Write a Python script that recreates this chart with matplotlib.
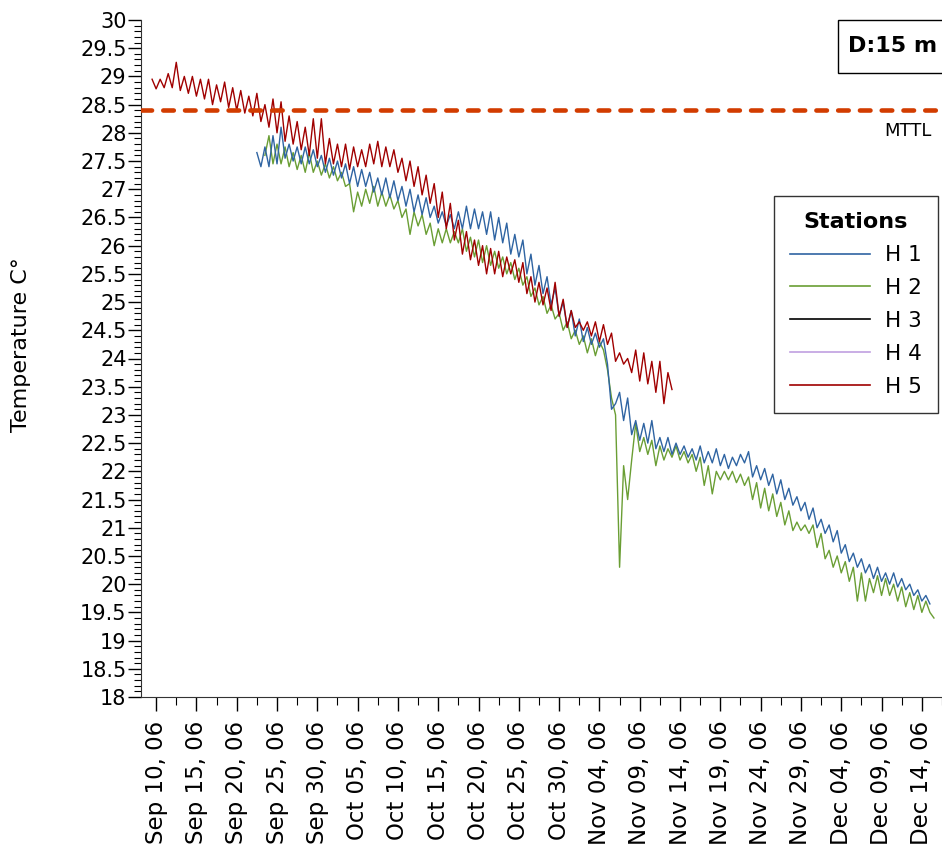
import matplotlib
matplotlib.use("Agg")
import matplotlib.pyplot as plt
import matplotlib.dates as mdates
from matplotlib.ticker import MultipleLocator
from matplotlib.patches import Rectangle
import pandas as pd

plt.rcParams['font.family'] = ['DejaVu Sans']

# ---------------- data (12-hour samples) ----------------
h5_start = "2006-09-09 12:00"
h5_values = [28.95,
    28.78, 28.95, 28.8, 29.05, 28.8, 29.25, 28.75, 29.0, 28.7, 29.0,
    28.65, 28.95, 28.6, 28.95, 28.5, 28.85, 28.55, 28.9, 28.45, 28.8,
    28.4, 28.75, 28.35, 28.65, 28.3, 28.7, 28.2, 28.5, 28.1, 28.6,
    28.0, 28.55, 27.85, 28.3, 27.8, 28.2, 27.7, 28.1, 27.6, 28.25,
    27.55, 28.25, 27.45, 27.9, 27.45, 27.8, 27.4, 27.8, 27.35, 27.75,
    27.4, 27.7, 27.4, 27.8, 27.45, 27.85, 27.4, 27.75, 27.4, 27.7,
    27.3, 27.55, 27.15, 27.5, 27.05, 27.4, 26.9, 27.25, 26.75, 27.1,
    26.5, 26.95, 26.3, 26.75, 26.1, 26.45, 25.85, 26.25, 25.75, 26.1,
    25.65, 26.0, 25.5, 25.95, 25.5, 25.9, 25.45, 25.8, 25.5, 25.75,
    25.35, 25.7, 25.15, 25.45, 25.0, 25.35, 24.95, 25.25, 24.85, 25.35,
    24.75, 25.05, 24.55, 24.85, 24.55, 24.65, 24.5, 24.65, 24.4, 24.65,
    24.3, 24.6, 24.25, 24.45, 23.95, 24.1, 23.9, 24.0, 23.75, 24.15,
    23.6, 24.1, 23.55, 23.95, 23.4, 23.95, 23.2, 23.75, 23.45]

h1_start = "2006-09-22 12:00"
h1_values = [27.65,
    27.4, 27.75, 27.4, 27.95, 27.45, 28.1, 27.55, 27.8, 27.5, 27.75,
    27.45, 27.75, 27.45, 27.7, 27.4, 27.6, 27.3, 27.55, 27.25, 27.5,
    27.2, 27.45, 27.1, 27.4, 27.05, 27.35, 27.05, 27.3, 26.95, 27.2,
    26.9, 27.2, 26.85, 27.15, 26.8, 27.05, 26.7, 27.0, 26.6, 26.9,
    26.55, 26.85, 26.5, 26.7, 26.4, 26.6, 26.35, 26.55, 26.3, 26.6,
    26.3, 26.7, 26.3, 26.65, 26.3, 26.6, 26.2, 26.6, 26.1, 26.5,
    26.05, 26.4, 25.85, 26.2, 25.8, 26.1, 25.5, 25.85, 25.3, 25.65,
    25.15, 25.45, 24.95, 25.25, 24.75, 25.0, 24.55, 24.85, 24.4, 24.7,
    24.3, 24.55, 24.25, 24.45, 24.2, 24.35, 23.9, 23.1, 23.2, 23.4,
    22.9, 23.3, 22.65, 22.9, 22.55, 22.85, 22.5, 22.9, 22.4, 22.6,
    22.35, 22.6, 22.3, 22.5, 22.3, 22.45, 22.25, 22.4, 22.2, 22.45,
    22.15, 22.35, 22.15, 22.4, 22.1, 22.3, 22.05, 22.25, 22.1, 22.3,
    22.15, 22.35, 21.9, 22.1, 21.85, 22.05, 21.75, 21.95, 21.6, 21.85,
    21.5, 21.7, 21.4, 21.55, 21.3, 21.45, 21.15, 21.35, 21.0, 21.15,
    20.9, 21.05, 20.75, 20.95, 20.55, 20.7, 20.4, 20.55, 20.3, 20.45,
    20.2, 20.35, 20.1, 20.3, 20.05, 20.2, 20.0, 20.2, 19.95, 20.1,
    19.9, 20.0, 19.8, 19.9, 19.7, 19.8, 19.65]

h2_start = "2006-09-23 12:00"
h2_values = [27.6,
    27.95, 27.45, 27.8, 27.45, 27.75, 27.4, 27.65, 27.35, 27.6, 27.3,
    27.65, 27.3, 27.5, 27.25, 27.45, 27.2, 27.4, 27.15, 27.3, 27.05,
    27.1, 26.6, 26.95, 26.7, 27.0, 26.75, 27.05, 26.7, 26.95, 26.7,
    26.9, 26.65, 26.8, 26.5, 26.65, 26.2, 26.6, 26.35, 26.55, 26.2,
    26.4, 26.0, 26.3, 26.05, 26.3, 26.05, 26.25, 26.05, 26.3, 25.9,
    26.15, 25.8, 26.1, 25.7, 26.0, 25.65, 25.9, 25.6, 25.8, 25.5,
    25.7, 25.4, 25.6, 25.3, 25.45, 25.1, 25.25, 24.95, 25.1, 24.8,
    24.95, 24.7, 24.8, 24.5, 24.65, 24.35, 24.5, 24.25, 24.4, 24.1,
    24.35, 24.05, 24.3, 24.15, 23.8, 23.3, 23.0, 20.3, 22.1, 21.5,
    22.2, 22.85, 22.35, 22.6, 22.3, 22.55, 22.1, 22.45, 22.2, 22.4,
    22.25, 22.45, 22.2, 22.35, 22.15, 22.3, 22.0, 22.25, 21.75, 22.1,
    21.6, 22.0, 21.85, 22.0, 21.85, 22.0, 21.8, 21.95, 21.75, 21.9,
    21.5, 21.8, 21.35, 21.7, 21.3, 21.6, 21.2, 21.45, 21.05, 21.3,
    20.95, 21.1, 20.95, 21.05, 20.9, 21.05, 20.65, 20.9, 20.45, 20.6,
    20.3, 20.5, 20.2, 20.4, 20.05, 20.3, 19.7, 20.2, 19.7, 20.1,
    19.85, 20.15, 19.8, 20.1, 19.8, 20.0, 19.7, 19.95, 19.6, 19.85,
    19.55, 19.8, 19.5, 19.7, 19.5, 19.4]

h3_values = []
h4_values = []

stations = ["H 1", "H 2", "H 3", "H 4", "H 5"]
colors = ["#2f64a2", "#6a9e34", "#000000", "#c0a0e0", "#a00000"]
mttl_value = 28.4
depth_label = "D:15 m"
y_label = "Temperature C°"
x_min, x_max = "2006-09-08 03:00", "2006-12-16 00:00"
tick_start, tick_end = "2006-09-10", "2006-12-14"

# ---------------- figure ----------------
W, H = 942, 851
fig = plt.figure(figsize=(W / 100, H / 100), dpi=100)
ax = fig.add_axes([141 / W, 1 - 697 / H, (W - 141) / W, (697 - 20) / H])

t1 = pd.date_range(h1_start, periods=len(h1_values), freq="12h")
t2 = pd.date_range(h2_start, periods=len(h2_values), freq="12h")
t5 = pd.date_range(h5_start, periods=len(h5_values), freq="12h")

lw = 1.0
ax.plot(t2, h2_values, color=colors[1], lw=lw, zorder=2)
ax.plot(t1, h1_values, color=colors[0], lw=lw, zorder=3)
ax.plot(t5, h5_values, color=colors[4], lw=lw, zorder=4)

# legend handles (H3/H4 have no data)
handles = []
for name, c, vals in zip(stations, colors,
                         [h1_values, h2_values, h3_values, h4_values, h5_values]):
    (ln,) = ax.plot(vals, color=c, lw=1.2, label=name) if vals == [] else ax.plot([], [], color=c, lw=1.2, label=name)
    handles.append(ln)

ax.axhline(mttl_value, color="#d23c00", lw=3.3, ls=(0, (2.3, 2.45)),
           dash_capstyle="round", zorder=5)

ax.set_ylim(18, 30)
ax.set_xlim(pd.Timestamp(x_min), pd.Timestamp(x_max))
ax.yaxis.set_major_locator(MultipleLocator(0.5))
ax.yaxis.set_minor_locator(MultipleLocator(0.1))
ax.yaxis.set_major_formatter(plt.FuncFormatter(lambda v, p: f"{v:g}"))

major_ticks = pd.date_range(tick_start, tick_end, freq="5D")
minor_ticks = major_ticks + pd.Timedelta(hours=60)
ax.set_xticks(major_ticks)
ax.set_xticks(minor_ticks, minor=True)
ax.xaxis.set_major_formatter(mdates.DateFormatter("%b %d, %y"))

ax.tick_params(axis="y", which="major", length=9.4, width=1, labelsize=15, pad=1)
ax.tick_params(axis="y", which="minor", length=5, width=0.8)
ax.tick_params(axis="x", which="major", length=10, width=1, labelsize=16.5,
               rotation=90, pad=7)
ax.tick_params(axis="x", which="minor", length=6, width=0.8)

for s in ["top", "right"]:
    ax.spines[s].set_visible(False)
ax.spines["left"].set_color("#333333")
ax.spines["bottom"].set_color("#333333")

fig.text(21 / W, 1 - 345 / H, y_label, rotation=90, ha="center", va="center",
         fontsize=16)

# MTTL label
fig.text(932 / W, 1 - 131 / H, "MTTL", ha="right", va="center", fontsize=13)

# depth box
fig.add_artist(Rectangle((838 / W, 1 - 73 / H), 120 / W, 53 / H,
                         transform=fig.transFigure, fill=True, facecolor="white",
                         edgecolor="black", lw=1.0, clip_on=False))
fig.text(848 / W, 1 - 46 / H, depth_label, ha="left", va="center",
         fontsize=16, fontweight="bold")

leg = ax.legend(handles=handles, title="Stations", loc="upper left",
                bbox_to_anchor=((774 - 141) / (W - 141), (697 - 196) / 677),
                borderaxespad=0, fontsize=15.5, fancybox=False, frameon=True,
                edgecolor="black", handlelength=3.7, handletextpad=0.7,
                labelspacing=0.6, borderpad=0.75)
leg.get_title().set_fontsize(16)
leg.get_title().set_fontweight("bold")
leg.get_frame().set_linewidth(1.0)

fig.savefig("out.png", dpi=100)
